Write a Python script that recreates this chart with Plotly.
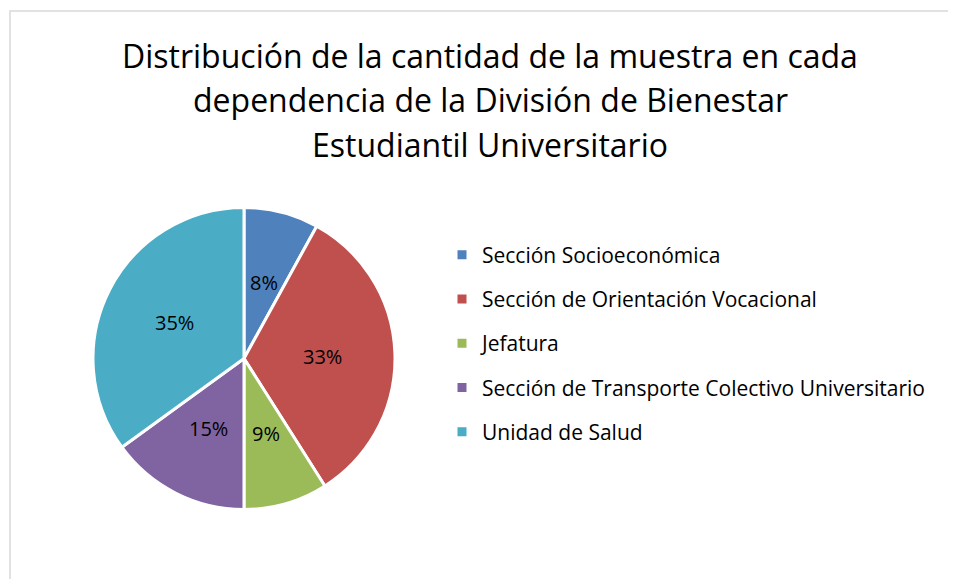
import math
import plotly.graph_objects as go

labels = ['Sección Socioeconómica', 'Sección de Orientación Vocacional', 'Jefatura',
          'Sección de Transporte Colectivo Universitario', 'Unidad de Salud']
values = [8, 33, 9, 15, 35]
colors = ['#4F81BD', '#C0504D', '#9BBB59', '#8064A2', '#4BACC6']
title_lines = ['Distribución de la cantidad de la muestra en cada',
               'dependencia de la División de Bienestar',
               'Estudiantil Universitario']

FONT = 'Open Sans'
OFF = 8  # page body margin
W, H = 956 - OFF, 579 - OFF


def px(x):
    return (x - OFF) / W


def py(y):
    return 1 - (y - OFF) / H


pie_x = [px(93), px(395)]
pie_y = [py(509.5), py(207.5)]

fig = go.Figure()
fig.add_trace(go.Pie(
    labels=labels, values=values, sort=False, direction='clockwise', rotation=0,
    marker=dict(colors=colors, line=dict(color='white', width=3)),
    textinfo='none', domain=dict(x=pie_x, y=pie_y),
    showlegend=False, hoverinfo='label+percent'))

# data labels at about half the radius, in the middle of each slice
total = sum(values)
cum = 0
for v in values:
    a = 2 * math.pi * (cum + v / 2) / total
    fig.add_annotation(x=0.52 * math.sin(a), y=0.52 * math.cos(a), xref='x2', yref='y2',
                       text=f'{v / total * 100:.0f}%', showarrow=False,
                       font=dict(family=FONT, size=20, color='black'))
    cum += v

# legend entries as dummy square markers so the row spacing can be set
for lab, col in zip(labels, colors):
    fig.add_trace(go.Scatter(x=[None], y=[None], mode='markers', name=lab, legendgroup=lab,
                             marker=dict(symbol='square', size=9, color=col)))

for i, line in enumerate(title_lines):
    fig.add_annotation(text=line, x=px(490), y=py(55 + 44.5 * i), xref='paper', yref='paper',
                       xanchor='center', yanchor='middle', showarrow=False,
                       font=dict(family=FONT, size=32, color='black'))

fig.add_shape(type='rect', xref='paper', yref='paper', x0=px(10), x1=1.02, y0=-0.02, y1=py(11),
              line=dict(color='#D9D9D9', width=1.5), fillcolor='rgba(0,0,0,0)')

fig.update_layout(
    width=W, height=H, margin=dict(l=0, r=0, t=0, b=0),
    paper_bgcolor='white', plot_bgcolor='rgba(0,0,0,0)',
    xaxis=dict(visible=False), yaxis=dict(visible=False),
    xaxis2=dict(visible=False, domain=pie_x, range=[-1, 1], fixedrange=True),
    yaxis2=dict(visible=False, domain=pie_y, range=[-1, 1], fixedrange=True),
    legend=dict(x=px(442), y=py(234.5), xanchor='left', yanchor='top', tracegroupgap=14,
                font=dict(family=FONT, size=21, color='black'), itemwidth=30),
)
fig.write_html('out.html')
